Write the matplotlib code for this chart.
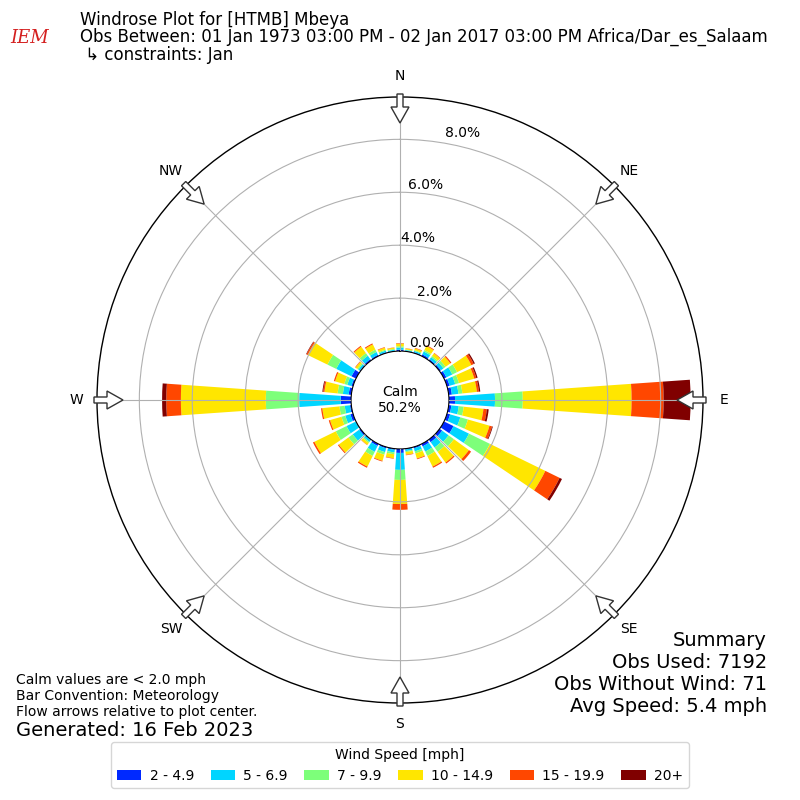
import numpy as np
import matplotlib
matplotlib.use("Agg")
import matplotlib.pyplot as plt
from matplotlib.patches import Circle, FancyArrow

# direction bins (deg, meteorological) and percent frequency per speed bin
directions = np.arange(0, 360, 10)
speed_labels = ["2 - 4.9", "5 - 6.9", "7 - 9.9", "10 - 14.9", "15 - 19.9", "20+"]

blue   = [0.05, 0.02, 0.03, 0.07, 0.05, 0.06, 0.10, 0.10, 0.12, 0.23, 0.10, 0.12,
          0.40, 0.12, 0.12, 0.10, 0.05, 0.03, 0.15, 0.04, 0.05, 0.08, 0.03, 0.06,
          0.02, 0.10, 0.05, 0.39, 0.10, 0.06, 0.19, 0.03, 0.06, 0.05, 0.03, 0.02]
cyan   = [0.08, 0.03, 0.05, 0.12, 0.10, 0.12, 0.25, 0.22, 0.25, 1.51, 0.28, 0.40,
          0.65, 0.30, 0.25, 0.22, 0.12, 0.06, 0.64, 0.10, 0.15, 0.25, 0.08, 0.30,
          0.38, 0.20, 0.20, 1.57, 0.22, 0.16, 0.64, 0.07, 0.16, 0.12, 0.06, 0.04]
green  = [0.05, 0.02, 0.03, 0.06, 0.06, 0.10, 0.20, 0.15, 0.15, 1.05, 0.19, 0.30,
          0.88, 0.25, 0.20, 0.18, 0.08, 0.04, 0.38, 0.07, 0.10, 0.17, 0.05, 0.20,
          0.45, 0.15, 0.20, 1.26, 0.20, 0.12, 0.37, 0.05, 0.12, 0.10, 0.04, 0.03]
yellow = [0.10, 0.04, 0.07, 0.17, 0.12, 0.22, 0.60, 0.60, 0.55, 4.11, 0.75, 0.85,
          2.33, 0.70, 0.50, 0.45, 0.20, 0.10, 0.91, 0.15, 0.24, 0.45, 0.09, 0.45,
          0.90, 0.45, 0.65, 3.21, 0.50, 0.36, 0.83, 0.08, 0.30, 0.22, 0.08, 0.05]
orange = [0.02, 0.01, 0.02, 0.03, 0.02, 0.05, 0.10, 0.08, 0.08, 1.21, 0.13, 0.10,
          0.60, 0.10, 0.05, 0.05, 0.03, 0.02, 0.22, 0.02, 0.03, 0.05, 0.01, 0.04,
          0.06, 0.05, 0.05, 0.55, 0.05, 0.05, 0.05, 0.02, 0.04, 0.04, 0.02, 0.01]
dred   = [0.00, 0.00, 0.00, 0.00, 0.00, 0.00, 0.05, 0.05, 0.05, 1.02, 0.07, 0.03,
          0.10, 0.00, 0.00, 0.00, 0.00, 0.00, 0.00, 0.00, 0.00, 0.00, 0.00, 0.00,
          0.00, 0.00, 0.00, 0.16, 0.03, 0.00, 0.02, 0.00, 0.00, 0.00, 0.00, 0.00]
bins = [blue, cyan, green, yellow, orange, dred]

calm_pct = 50.2
rticks = [0, 2, 4, 6, 8]
# (angle deg, radius) where each radial label sits
rlabel_pos = [(25, 0.53), (17.8, 2.45), (6.3, 4.3), (6.9, 6.32), (13.2, 8.53)]
compass = ["N", "NE", "E", "SE", "S", "SW", "W", "NW"]

colors = plt.cm.jet(np.linspace(0, 1, 7))[1:]

fig = plt.figure(figsize=(8, 8), dpi=100)
ax = fig.add_axes([97 / 800, 97 / 800, 606 / 800, 606 / 800], projection="polar")
ax.set_theta_zero_location("N")
ax.set_theta_direction(-1)
ax.set_rorigin(-1.85)
ax.set_ylim(0, 9.6)

theta = np.deg2rad(directions)
width = np.deg2rad(10) * 0.8
bottom = np.zeros(len(directions))
for vals, col, lab in zip(bins, colors, speed_labels):
    vals = np.array(vals)
    ax.bar(theta, vals, width=width, bottom=bottom, color=col, lw=0, label=lab,
           zorder=1)
    bottom += vals

ax.set_axisbelow(False)
ax.set_rgrids([2, 4, 6, 8], labels=[""] * 4)
ax.set_thetagrids(np.arange(0, 360, 45), compass, fontsize=10)
ax.tick_params(axis="x", pad=4.5)
ax.grid(True, color="#b0b0b0", lw=0.8)
ax.spines["polar"].set_linewidth(1.0)

for val, (ang, r) in zip(rticks, rlabel_pos):
    ax.text(np.deg2rad(ang), r, "%.1f%%" % val, ha="center", va="center",
            fontsize=10, zorder=5)

# calm circle
ax.add_patch(Circle((0.5, 0.5), 48 / 606, transform=ax.transAxes, fc="white",
                    ec="black", lw=1.0, zorder=3))
ax.text(0.5, 0.5, "Calm\n%.1f%%" % calm_pct, transform=ax.transAxes,
        ha="center", va="center", fontsize=10, zorder=4)

# flow arrows at compass points
r_tail, r_tip = 306 / 606, 277 / 606
for ang in np.deg2rad(np.arange(0, 360, 45)):
    ux, uy = np.sin(ang), np.cos(ang)
    ax.add_patch(FancyArrow(0.5 + r_tail * ux, 0.5 + r_tail * uy,
                            -(r_tail - r_tip) * ux, -(r_tail - r_tip) * uy,
                            width=6 / 606, head_width=18 / 606, head_length=16 / 606,
                            length_includes_head=True, transform=ax.transAxes,
                            fc="white", ec="#333333", lw=1.0, clip_on=False,
                            zorder=6))

# header
fig.text(30 / 800, 1 - 38 / 800, "IEM", color="#d42020", fontsize=13,
         family="DejaVu Serif", style="italic", ha="center", va="center")
fig.text(80 / 800, 1 - 20 / 800, "Windrose Plot for [HTMB] Mbeya", fontsize=12,
         va="center")
fig.text(80 / 800, 1 - 37 / 800,
         "Obs Between: 01 Jan 1973 03:00 PM - 02 Jan 2017 03:00 PM Africa/Dar_es_Salaam",
         fontsize=12, va="center")
fig.text(80 / 800, 1 - 55 / 800, " \u21b3 constraints: Jan", fontsize=12,
         va="center")

# footer notes
notes = ["Calm values are < 2.0 mph", "Bar Convention: Meteorology",
         "Flow arrows relative to plot center."]
for i, t in enumerate(notes):
    fig.text(16 / 800, 1 - (680 + 16 * i) / 800, t, fontsize=10, va="center")
fig.text(16 / 800, 1 - 730 / 800, "Generated: 16 Feb 2023", fontsize=14,
         va="center")

summary = ["Summary", "Obs Used: 7192", "Obs Without Wind: 71", "Avg Speed: 5.4 mph"]
for i, t in enumerate(summary):
    fig.text(767 / 800, 1 - (640 + 22 * i) / 800, t, fontsize=14, ha="right",
             va="center")

handles, labels = ax.get_legend_handles_labels()
fig.legend(handles, labels, loc="lower center", bbox_to_anchor=(0.5, 0.006),
           ncol=6, title="Wind Speed [mph]", fontsize=10, title_fontsize=10,
           handlelength=1.75, handletextpad=0.6, columnspacing=1.2)

fig.savefig("out.png", dpi=100)
